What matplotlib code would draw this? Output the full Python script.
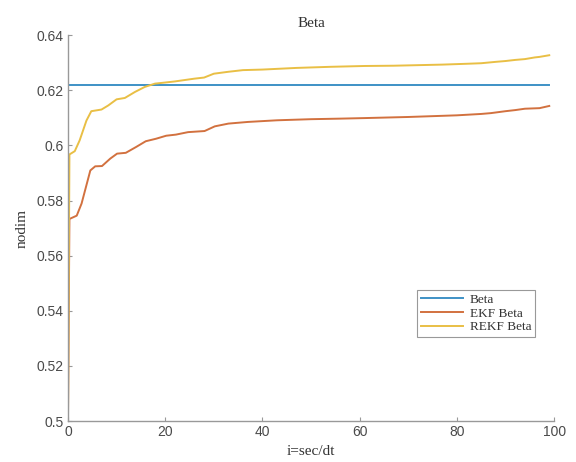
import numpy as np
import matplotlib
matplotlib.use('Agg')
import matplotlib.pyplot as plt

# values
beta_true = 0.6218
x_beta = [0, 99]

x_ekf = [0, 0.3, 1.8, 2.8, 4.6, 5.6, 7.0, 8.7, 10.1, 11.9, 14, 16, 18.1, 20.2, 22.2,
         24.7, 28.1, 30.2, 33, 37, 43, 50, 56, 61, 70, 80, 85, 87, 90, 92, 94, 97, 99]
y_ekf = [0.5, 0.5733, 0.5745, 0.5789, 0.5909, 0.5924, 0.5925, 0.5952, 0.5970, 0.5973,
         0.5994, 0.6015, 0.6024, 0.6035, 0.6039, 0.6048, 0.6052, 0.6069, 0.6079, 0.6085,
         0.6091, 0.6095, 0.6097, 0.6099, 0.6103, 0.6109, 0.6114, 0.6117, 0.6124, 0.6128,
         0.6133, 0.6135, 0.6143]

x_rekf = [0, 0.3, 1.4, 2.4, 3.8, 4.8, 6.9, 8.3, 10.0, 11.7, 13.8, 15.8, 17.9, 20, 22,
          24, 26, 28, 30, 33, 36, 40, 47, 54, 61, 67, 72, 77, 82, 85, 88, 90, 92, 94,
          96, 97, 99]
y_rekf = [0.5, 0.5967, 0.5979, 0.6018, 0.6090, 0.6124, 0.6130, 0.6145, 0.6167, 0.6172,
          0.6194, 0.6212, 0.6224, 0.6228, 0.6232, 0.6237, 0.6242, 0.6246, 0.6260, 0.6267,
          0.6273, 0.6275, 0.6281, 0.6285, 0.6288, 0.6289, 0.6291, 0.6293, 0.6296, 0.6298,
          0.6303, 0.6306, 0.6310, 0.6313, 0.6319, 0.6321, 0.6327]

labels = ['Beta', 'EKF Beta', 'REKF Beta']
# matlab default colours, a bit washed out like the screenshot
colors = ['#3E92C6', '#D2713F', '#E9BF45']

plt.rcParams['font.family'] = ['Liberation Sans', 'DejaVu Sans']
serif = ['Liberation Serif', 'DejaVu Serif']

fig = plt.figure(figsize=(5.76, 4.62), dpi=100)
ax = fig.add_axes([0.118, 0.0887, 0.844, 0.8353])

ax.plot(x_beta, [beta_true] * len(x_beta), color=colors[0], lw=1.4, label=labels[0])
ax.plot(x_ekf, y_ekf, color=colors[1], lw=1.4, label=labels[1])
ax.plot(x_rekf, y_rekf, color=colors[2], lw=1.4, label=labels[2])

ax.set_xlim(0, 100)
ax.set_ylim(0.5, 0.64)
ax.set_xticks(np.arange(0, 101, 20))
ax.set_yticks(np.arange(0.5, 0.641, 0.02))
ax.set_yticklabels(['0.5', '0.52', '0.54', '0.56', '0.58', '0.6', '0.62', '0.64'])

for s in ['top', 'right']:
    ax.spines[s].set_visible(False)
for s in ['left', 'bottom']:
    ax.spines[s].set_color('#999999')
    ax.spines[s].set_linewidth(1.0)
ax.tick_params(direction='in', length=3, width=0.8, color='#999999',
               labelsize=10, labelcolor='#4a4a4a', pad=3)

ax.set_title('Beta', fontfamily=serif, fontsize=11, color='#333333', pad=6)
ax.set_xlabel('i=sec/dt', fontfamily=serif, fontsize=11, color='#333333', labelpad=4)
ax.set_ylabel('nodim', fontfamily=serif, fontsize=11, color='#333333', labelpad=6)

leg = ax.legend(loc='upper left', bbox_to_anchor=(0.704, 0.357), fancybox=False,
                framealpha=1, edgecolor='#999999', prop={'family': serif, 'size': 9.5},
                handlelength=3.2, borderpad=0.3, labelspacing=0.1, handletextpad=0.5)
leg.get_frame().set_linewidth(0.8)
for t in leg.get_texts():
    t.set_color('#333333')

fig.savefig('out.png', dpi=100)
